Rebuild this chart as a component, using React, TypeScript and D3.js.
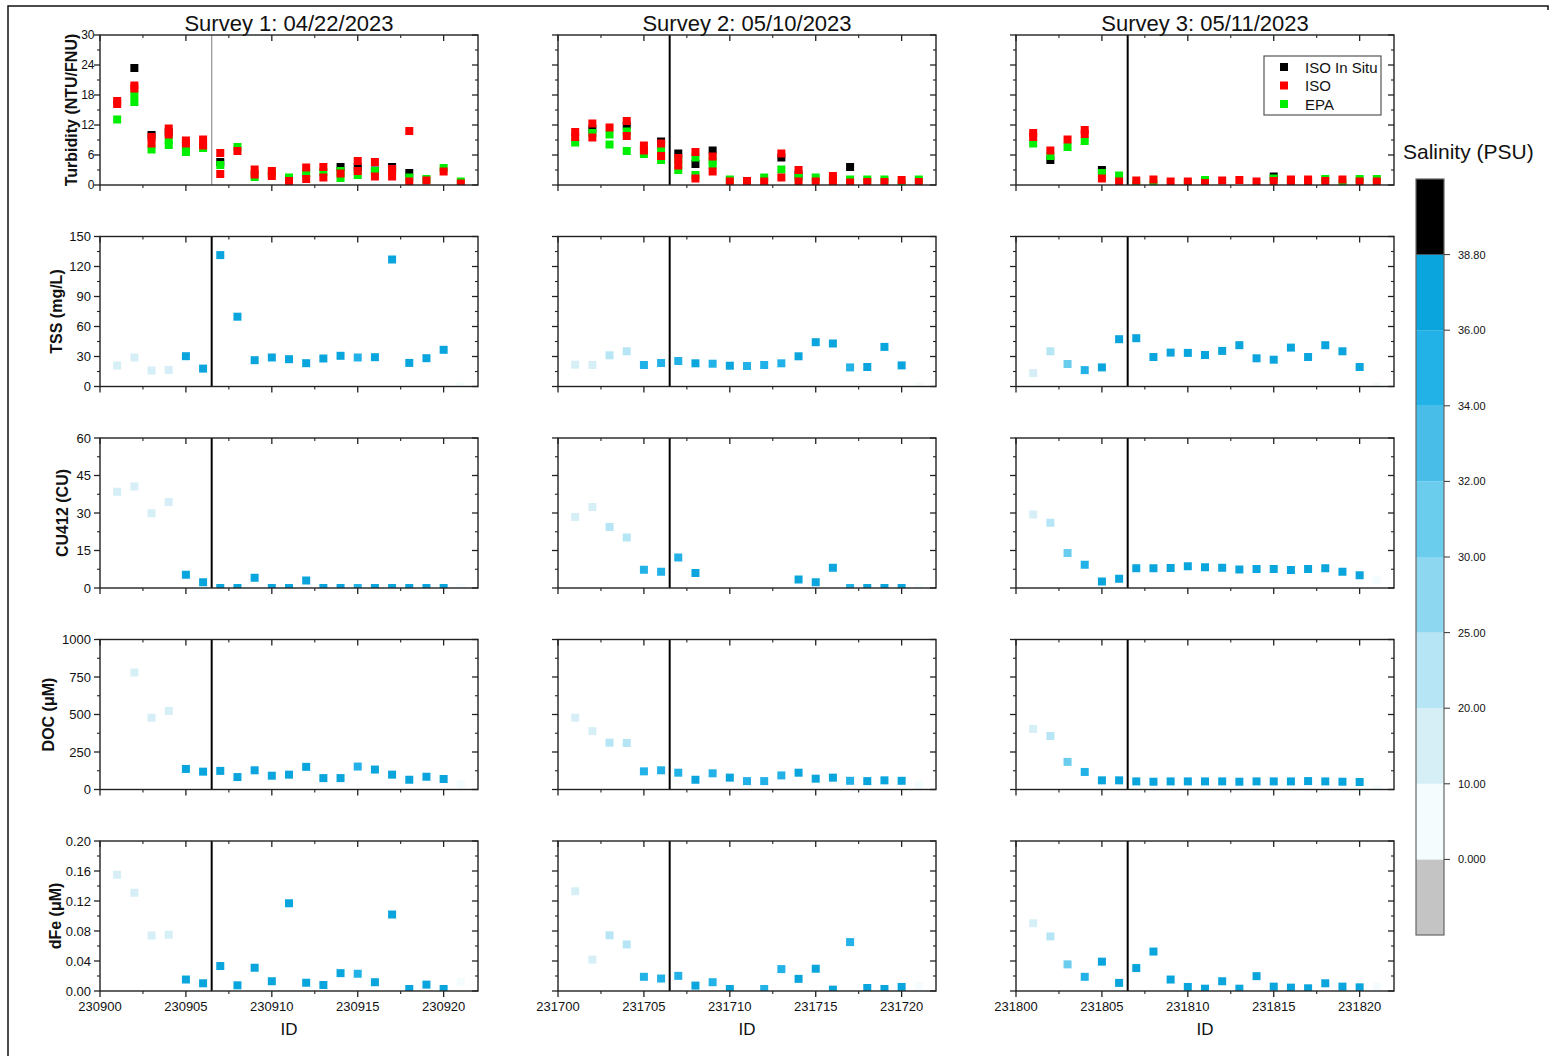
import React from "react";
import * as d3 from "d3";

// ---------- survey metadata ----------
const surveyTitles = ["Survey 1: 04/22/2023", "Survey 2: 05/10/2023", "Survey 3: 05/11/2023"];
const surveyBase = [230900, 231700, 231800];

const ids1 = [230901, 230902, 230903, 230904, 230905, 230906, 230907, 230908, 230909, 230910, 230911, 230912, 230913, 230914, 230915, 230916, 230917, 230918, 230919, 230920, 230921];
const ids2 = [231701, 231702, 231703, 231704, 231705, 231706, 231707, 231708, 231709, 231710, 231711, 231712, 231713, 231714, 231715, 231716, 231717, 231718, 231719, 231720, 231721];
const ids3 = [231801, 231802, 231803, 231804, 231805, 231806, 231807, 231808, 231809, 231810, 231811, 231812, 231813, 231814, 231815, 231816, 231817, 231818, 231819, 231820, 231821];

// ---------- salinity (PSU) per station ----------
const sal1 = [15, 15, 15, 15, 37, 37, 37, 37, 37, 37, 37, 37, 37, 37, 35, 37, 37, 37, 37, 37, 5];
const sal2 = [15, 18, 22, 22, 35, 35, 35, 37, 35, 37, 35, 35, 35, 37, 37, 37, 35, 37, 37, 37, 5];
const sal3 = [15, 22, 31, 35, 37, 37, 37, 37, 37, 37, 37, 37, 37, 37, 37, 37, 37, 37, 37, 37, 5];

// ---------- TSS (mg/L) ----------
const tss1 = [21, 29, 16, 16.5, 30.3, 17.9, 131.4, 69.8, 26.3, 29, 27.3, 23.3, 28, 30.7, 29, 29.3, 127, 23.6, 28.3, 36.7, 0];
const tss2 = [21.8, 21.5, 31.2, 35.2, 21.5, 23.5, 25.5, 23.2, 22.8, 20.8, 20.5, 21.5, 23.2, 30.2, 44.3, 43, 19.1, 19.5, 39.6, 21.1, 0];
const tss3 = [13.4, 35.2, 22.5, 16.4, 19.1, 47.3, 48.3, 29.5, 33.9, 33.6, 31.5, 35.6, 41.3, 28.2, 26.8, 38.9, 29.5, 41.3, 35.2, 19.5, 0];

// ---------- CU412 (CU) ----------
const cu1 = [38.5, 40.6, 29.9, 34.4, 5.3, 2.3, 0, 0, 4.1, 0, 0, 3, 0, 0, 0, 0, 0, 0, 0, 0, 0];
const cu2 = [28.4, 32.4, 24.4, 20.2, 7.3, 6.5, 12.2, 6.0, null, null, null, null, null, 3.4, 2.3, 8.1, 0, 0, 0, 0, 0];
const cu3 = [29.4, 26.1, 14, 9.3, 2.6, 3.7, 7.9, 7.9, 8, 8.7, 8.3, 8.1, 7.4, 7.6, 7.6, 7.2, 7.6, 7.9, 6.5, 5.1, 3.4];

// ---------- DOC (µM) ----------
const doc1 = [null, 780, 479, 524, 137, 119, 124, 83, 128, 92, 99, 151, 76, 76, 153, 133, 99, 65, 85, 70, 34];
const doc2 = [479, 389, 312, 310, 121, 128, 112, 65, 108, 79, 56, 56, 94, 112, 72, 79, 58, 56, 61, 58, 29];
const doc3 = [404, 357, 184, 117, 61, 61, 54, 52, 54, 54, 54, 54, 52, 54, 54, 54, 56, 54, 52, 50, 0];

// ---------- dFe (µM) ----------
const dfe1 = [0.155, 0.131, 0.074, 0.075, 0.0153, 0.0103, 0.0333, 0.0076, 0.031, 0.013, 0.117, 0.011, 0.008, 0.0238, 0.023, 0.0117, 0.102, 0.0027, 0.0085, 0.0027, 0.012];
const dfe2 = [0.133, 0.0418, 0.0742, 0.062, 0.0189, 0.0166, 0.0202, 0.0072, 0.0117, 0.0027, null, 0.0027, 0.0292, 0.0162, 0.0297, 0.0018, 0.0652, 0.004, 0.0027, 0.0054, 0.007];
const dfe3 = [0.0903, 0.0728, 0.0355, 0.0189, 0.0391, 0.0108, 0.0306, 0.0526, 0.0153, 0.0054, 0.0031, 0.013, 0.0031, 0.0198, 0.0058, 0.0045, 0.0036, 0.0103, 0.0058, 0.0049, 0.0058];

// ---------- turbidity (NTU/FNU): [ID, value] readings ----------
const inSitu1 = [[230902, 23.4], [230903, 10.0], [230904, 10.6], [230907, 4.6], [230914, 3.6], [230915, 3.6], [230916, 2.9], [230917, 3.6], [230918, 2.4]];
const iso1 = [[230901, 16.8], [230901, 16.2], [230902, 19.9], [230902, 19.3], [230903, 9.6], [230903, 8.3], [230904, 11.3], [230904, 10.1], [230905, 8.9], [230905, 8.3], [230906, 9.1], [230906, 7.9], [230907, 6.4], [230907, 2.2], [230908, 6.8], [230909, 3.1], [230909, 2.1], [230910, 2.8], [230910, 1.8], [230911, 0.8], [230912, 3.5], [230912, 1.2], [230913, 3.6], [230913, 1.5], [230914, 2.3], [230915, 4.8], [230915, 2.8], [230916, 4.6], [230916, 1.7], [230917, 3.2], [230917, 1.7], [230918, 10.8], [230918, 0.7], [230919, 0.9], [230920, 2.7], [230921, 0.3]];
const epa1 = [[230901, 13.1], [230902, 18.1], [230902, 16.6], [230903, 7.1], [230904, 9.0], [230904, 8.0], [230905, 7.2], [230905, 6.6], [230906, 7.4], [230907, 4.0], [230908, 7.6], [230909, 1.6], [230910, 2.4], [230911, 1.5], [230912, 2.4], [230913, 2.6], [230914, 2.8], [230914, 1.4], [230915, 2.0], [230916, 2.8], [230917, 2.8], [230918, 1.5], [230919, 1.2], [230920, 3.4], [230921, 0.7]];

const inSitu2 = [[231702, 11.2], [231704, 11.9], [231706, 8.7], [231707, 6.3], [231708, 4.2], [231709, 6.9], [231713, 5.5], [231714, 2.1], [231717, 3.6]];
const iso2 = [[231701, 10.6], [231701, 9.6], [231702, 12.3], [231702, 9.5], [231703, 11.5], [231704, 12.8], [231704, 9.8], [231705, 7.9], [231705, 6.9], [231706, 8.3], [231706, 5.8], [231707, 5.4], [231707, 3.9], [231708, 6.6], [231708, 1.3], [231709, 5.7], [231709, 2.7], [231710, 0.7], [231711, 0.8], [231712, 0.7], [231713, 6.3], [231713, 1.5], [231714, 3.0], [231714, 0.7], [231715, 0.7], [231716, 1.8], [231716, 0.7], [231717, 0.5], [231718, 0.6], [231719, 0.6], [231720, 1.0], [231721, 0.6]];
const epa2 = [[231701, 8.5], [231702, 10.4], [231703, 10.1], [231703, 8.1], [231704, 10.7], [231704, 6.8], [231705, 6.2], [231706, 6.9], [231706, 5.0], [231707, 4.9], [231707, 3.0], [231708, 5.5], [231708, 2.0], [231709, 4.9], [231709, 4.0], [231710, 1.1], [231712, 1.5], [231713, 3.1], [231714, 1.5], [231715, 1.5], [231716, 1.3], [231717, 1.1], [231718, 1.1], [231719, 1.1], [231720, 0.2], [231721, 1.1]];

const inSitu3 = [[231802, 5.0], [231805, 3.0], [231815, 1.7]];
const iso3 = [[231801, 10.4], [231801, 9.6], [231802, 6.9], [231803, 9.1], [231804, 11.0], [231804, 10.2], [231805, 1.3], [231806, 0.7], [231807, 0.9], [231808, 1.1], [231809, 0.7], [231810, 0.7], [231811, 0.4], [231812, 0.9], [231813, 1.0], [231814, 0.7], [231815, 0.8], [231816, 1.1], [231816, 0.6], [231817, 1.1], [231817, 0.6], [231818, 0.8], [231819, 1.1], [231820, 0.7], [231821, 0.7]];
const epa3 = [[231801, 8.3], [231802, 5.8], [231803, 7.6], [231804, 8.8], [231805, 2.4], [231806, 1.9], [231807, 0.1], [231808, 0.1], [231810, 0.2], [231811, 1.0], [231815, 1.3], [231816, 0.9], [231818, 1.2], [231819, 0.3], [231820, 1.2], [231821, 1.2]];

// ---------- axes ----------
const rowTitles = ["Turbidity (NTU/FNU)", "TSS (mg/L)", "CU412 (CU)", "DOC (\u03bcM)", "dFe (\u03bcM)"];
const rowMax = [30, 150, 60, 1000, 0.2];
const rowStep = [6, 30, 15, 250, 0.04];
const rowDecimals = [0, 0, 0, 0, 2];

// ---------- salinity colour scale ----------
const salinityBreaks = [0, 10, 20, 25, 30, 32, 34, 36, 38.8];
const salinityLabels = ["0.000", "10.00", "20.00", "25.00", "30.00", "32.00", "34.00", "36.00", "38.80"];
const salinityColors = ["#c4c4c4", "#f5fcfe", "#d6eff6", "#b6e6f5", "#8dd7f0", "#6acdee", "#48bde8", "#23b2e7", "#0aa5dc", "#000000"];

const turbSeries = ["ISO In Situ", "ISO", "EPA"];
const turbColors = ["#000000", "#ff0000", "#00ee00"];

const FONT = "'Liberation Sans', Arial, Helvetica, sans-serif";
const W = 1550;
const H = 1056;
const colLeft = [100, 558, 1016];
const colWidth = 378;
const rowTop = [35, 236.5, 438, 639.5, 841];
const rowHeight = 150;
const titleX = [71, 56, 62, 48, 55];
const tickFont = [12, 13, 13, 13, 13];
const tickGap = [5.5, 9, 9, 9, 9];
const M = 8; // marker size

const salColor = d3.scaleThreshold<number, string>().domain(salinityBreaks).range(salinityColors);

const stationIds = [ids1, ids2, ids3];
const salinity = [sal1, sal2, sal3];
const rowData = [null, [tss1, tss2, tss3], [cu1, cu2, cu3], [doc1, doc2, doc3], [dfe1, dfe2, dfe3]];
const turbData = [
  [inSitu1, iso1, epa1],
  [inSitu2, iso2, epa2],
  [inSitu3, iso3, epa3],
];
// drawing order: in-situ, EPA, then ISO on top
const turbOrder = [0, 2, 1];

function Panel({ col, row }: { col: number; row: number }) {
  const base = surveyBase[col];
  const x0 = colLeft[col];
  const y0 = rowTop[row];
  const x = d3.scaleLinear().domain([base, base + 22]).range([x0, x0 + colWidth]);
  const y = d3.scaleLinear().domain([0, rowMax[row]]).range([y0 + rowHeight, y0]);
  const step = rowStep[row];
  const majorY = d3.range(0, rowMax[row] + step / 2, step);
  const minorY = d3.range(step / 2, rowMax[row], step);
  const majorX = d3.range(base, base + 22, 5);
  const minorX = d3.range(base + 2.5, base + 22, 5);
  const yb = y0 + rowHeight;
  const xr = x0 + colWidth;
  const tickStroke = "#222";
  const fmt = d3.format(`.${rowDecimals[row]}f`);
  const divider = x(base + 6.5);
  const clipId = `clip-${col}-${row}`;

  const marks: JSX.Element[] = [];
  if (row === 0) {
    turbOrder.forEach((s) => {
      turbData[col][s].forEach(([id, v], i) => {
        marks.push(
          <rect key={`t${s}-${i}`} x={x(id) - M / 2} y={y(v) - M / 2} width={M} height={M} fill={turbColors[s]} />
        );
      });
    });
  } else {
    const vals = rowData[row]![col];
    stationIds[col].forEach((id, i) => {
      const v = vals[i];
      if (v === null || v === undefined) return;
      marks.push(
        <rect key={`p${i}`} x={x(id) - M / 2} y={y(v) - M / 2} width={M} height={M} fill={salColor(salinity[col][i])} />
      );
    });
  }

  return (
    <g>
      <defs>
        <clipPath id={clipId}>
          <rect x={x0} y={y0} width={colWidth} height={rowHeight} />
        </clipPath>
      </defs>
      <line
        x1={divider}
        x2={divider}
        y1={y0}
        y2={yb}
        stroke={row === 0 && col === 0 ? "#9a9a9a" : "#000"}
        strokeWidth={row === 0 && col === 0 ? 1.3 : 2}
      />
      <g clipPath={`url(#${clipId})`}>{marks}</g>
      {/* frame */}
      <rect x={x0} y={y0} width={colWidth} height={rowHeight} fill="none" stroke={tickStroke} strokeWidth={1.4} />
      {/* y ticks: outward on left, inward on right */}
      {majorY.map((t) => (
        <g key={`my${t}`}>
          <line x1={x0 - 6} x2={x0} y1={y(t)} y2={y(t)} stroke={tickStroke} strokeWidth={1.3} />
          <line x1={xr - 6} x2={xr} y1={y(t)} y2={y(t)} stroke={tickStroke} strokeWidth={1.3} />
        </g>
      ))}
      {minorY.map((t) => (
        <g key={`ny${t}`}>
          <line x1={x0 - 3} x2={x0} y1={y(t)} y2={y(t)} stroke={tickStroke} strokeWidth={1.1} />
          <line x1={xr - 3} x2={xr} y1={y(t)} y2={y(t)} stroke={tickStroke} strokeWidth={1.1} />
        </g>
      ))}
      {/* x ticks: outward on bottom, inward on top */}
      {majorX.map((t) => (
        <g key={`mx${t}`}>
          <line x1={x(t)} x2={x(t)} y1={yb} y2={yb + 6} stroke={tickStroke} strokeWidth={1.3} />
          <line x1={x(t)} x2={x(t)} y1={y0} y2={y0 + 6} stroke={tickStroke} strokeWidth={1.3} />
        </g>
      ))}
      {minorX.map((t) => (
        <g key={`nx${t}`}>
          <line x1={x(t)} x2={x(t)} y1={yb} y2={yb + 3} stroke={tickStroke} strokeWidth={1.1} />
          <line x1={x(t)} x2={x(t)} y1={y0} y2={y0 + 3} stroke={tickStroke} strokeWidth={1.1} />
        </g>
      ))}
      {col === 0 &&
        majorY.map((t) => (
          <text
            key={`ly${t}`}
            x={x0 - tickGap[row]}
            y={y(t)}
            fontSize={tickFont[row]}
            textAnchor="end"
            dominantBaseline="central"
            fontFamily={FONT}
            fill="#111"
          >
            {fmt(t)}
          </text>
        ))}
      {row === 4 &&
        majorX.map((t) => (
          <text key={`lx${t}`} x={x(t)} y={yb + 15} fontSize={13} textAnchor="middle" dominantBaseline="central" fontFamily={FONT} fill="#111">
            {t}
          </text>
        ))}
      {row === 4 && (
        <text x={(x0 + xr) / 2} y={yb + 38} fontSize={17} textAnchor="middle" dominantBaseline="central" fontFamily={FONT} fill="#111">
          ID
        </text>
      )}
      {col === 0 && (
        <text
          transform={`translate(${titleX[row]},${y0 + rowHeight / 2}) rotate(-90)`}
          fontSize={16}
          fontWeight="bold"
          textAnchor="middle"
          dominantBaseline="central"
          fontFamily={FONT}
          fill="#111"
        >
          {rowTitles[row]}
        </text>
      )}
      {row === 0 && (
        <text x={(x0 + xr) / 2} y={23} fontSize={22} textAnchor="middle" dominantBaseline="central" fontFamily={FONT} fill="#111">
          {surveyTitles[col]}
        </text>
      )}
    </g>
  );
}

function Legend() {
  const lx = 1264;
  const ly = 56;
  return (
    <g>
      <rect x={lx} y={ly} width={117} height={59} fill="#fff" stroke="#555" strokeWidth={1.2} />
      {turbSeries.map((name, i) => (
        <g key={name}>
          <rect x={lx + 16} y={ly + 11 + i * 18.5 - 4} width={M} height={M} fill={turbColors[i]} />
          <text x={lx + 41} y={ly + 11 + i * 18.5} fontSize={15} dominantBaseline="central" fontFamily={FONT} fill="#111">
            {name}
          </text>
        </g>
      ))}
    </g>
  );
}

function ColorBar() {
  const bx = 1416;
  const bw = 28;
  const top = 179;
  const bottom = 935;
  const n = salinityColors.length;
  // bands are evenly spaced by class index
  const pos = d3.scaleLinear().domain([0, n]).range([bottom, top]);
  return (
    <g>
      <text x={1403} y={151} fontSize={21} dominantBaseline="central" fontFamily={FONT} fill="#111">
        Salinity (PSU)
      </text>
      {salinityColors.map((c, i) => (
        <rect key={c} x={bx} y={pos(i + 1)} width={bw} height={pos(i) - pos(i + 1)} fill={c} />
      ))}
      <rect x={bx} y={top} width={bw} height={bottom - top} fill="none" stroke="#666" strokeWidth={1.2} />
      {salinityLabels.map((lab, i) => (
        <g key={lab}>
          <line x1={bx + bw} x2={bx + bw + 6} y1={pos(i + 1)} y2={pos(i + 1)} stroke="#333" strokeWidth={1} />
          <text x={bx + bw + 14} y={pos(i + 1)} fontSize={11} dominantBaseline="central" fontFamily={FONT} fill="#111">
            {lab}
          </text>
        </g>
      ))}
    </g>
  );
}

export default function App() {
  return (
    <svg
      width={W}
      height={H}
      viewBox={`0 0 ${W} ${H}`}
      style={{ position: "absolute", left: 0, top: 0, background: "#fff" }}
    >
      <rect x={0} y={0} width={W} height={H} fill="#fff" />
      <path d={`M8,${H} V6 H1548 V10`} fill="none" stroke="#111" strokeWidth={1.5} />
      {[0, 1, 2].map((c) => [0, 1, 2, 3, 4].map((r) => <Panel key={`${c}-${r}`} col={c} row={r} />))}
      <Legend />
      <ColorBar />
    </svg>
  );
}
